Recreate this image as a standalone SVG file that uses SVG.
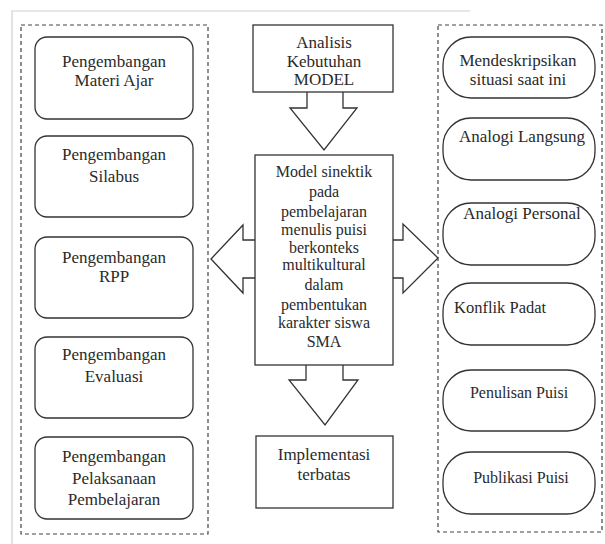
<svg xmlns="http://www.w3.org/2000/svg" width="605" height="544" viewBox="0 0 605 544">
<style>
text{font-family:"Liberation Serif","Times New Roman",serif;font-size:17px;fill:#2a2a2a;text-anchor:middle}
.box{fill:#fff;stroke:#333;stroke-width:1.3}
.dash{fill:none;stroke:#444;stroke-width:1.2;stroke-dasharray:4 3}
.arr{fill:#fff;stroke:#333;stroke-width:1.3;stroke-linejoin:miter}
.m text{font-size:16px}
</style>
<rect width="605" height="544" fill="#fff"/>
<g id="scan-border" stroke="#cfcfcf" stroke-width="1.2" fill="none">
<path d="M12,544 V11 H470"/>
</g>
<g id="group-left"><rect class="dash" x="21" y="25" width="187" height="509"/></g>
<g id="group-right"><rect class="dash" x="438" y="25" width="164" height="507"/></g>

<g id="connectors">
<path class="arr" d="M307,91 V108 H290 L324,150 L357,108 H343 V91"/>
<path class="arr" d="M306,364 V380 H289 L325,425 L358,380 H343 V364"/>
<path class="arr" d="M256,240 H243 V225 L211,259 L243,293 V278 H256"/>
<path class="arr" d="M392,240 H403 V224 L438,258 L403,293 V278 H392"/>
</g>

<g id="n-materi"><rect class="box" x="35" y="37" width="158" height="82" rx="12"/><text x="114" y="67">Pengembangan</text><text x="114" y="86">Materi Ajar</text></g>
<g id="n-silabus"><rect class="box" x="35" y="136" width="158" height="81" rx="12"/><text x="114" y="160">Pengembangan</text><text x="114" y="182">Silabus</text></g>
<g id="n-rpp"><rect class="box" x="35" y="237" width="158" height="81" rx="12"/><text x="114" y="263">Pengembangan</text><text x="114" y="282">RPP</text></g>
<g id="n-evaluasi"><rect class="box" x="35" y="337" width="158" height="81" rx="12"/><text x="114" y="360">Pengembangan</text><text x="114" y="382">Evaluasi</text></g>
<g id="n-pelaksanaan"><rect class="box" x="35" y="437" width="158" height="82" rx="12"/><text x="114" y="462">Pengembangan</text><text x="114" y="484">Pelaksanaan</text><text x="114" y="505">Pembelajaran</text></g>

<g id="n-analisis"><rect class="box" x="253" y="25" width="140" height="67"/><text x="324" y="48">Analisis</text><text x="324" y="67">Kebutuhan</text><text x="324" y="85">MODEL</text></g>
<g id="n-model" class="m"><rect class="box" x="255" y="155" width="138" height="210"/>
<text x="324" y="177">Model sinektik</text><text x="324" y="197">pada</text><text x="324" y="217">pembelajaran</text><text x="324" y="235">menulis puisi</text><text x="324" y="253">berkonteks</text><text x="324" y="270">multikultural</text><text x="324" y="290">dalam</text><text x="324" y="310">pembentukan</text><text x="324" y="328">karakter siswa</text><text x="324" y="347">SMA</text></g>
<g id="n-implementasi"><rect class="box" x="256" y="436" width="137" height="72"/><text x="324" y="460">Implementasi</text><text x="324" y="480">terbatas</text></g>

<g id="p-deskripsi"><rect class="box" x="443" y="37" width="152" height="61" rx="28"/><text x="518" y="66">Mendeskripsikan</text><text x="518" y="85">situasi saat ini</text></g>
<g id="p-langsung"><rect class="box" x="443" y="118" width="152" height="62" rx="28"/><text x="522" y="142">Analogi Langsung</text></g>
<g id="p-personal"><rect class="box" x="443" y="203" width="152" height="62" rx="28"/><text x="522" y="219">Analogi Personal</text></g>
<g id="p-konflik"><rect class="box" x="443" y="283" width="152" height="62" rx="28"/><text x="454" y="313" style="text-anchor:start;font-size:16.5px">Konflik Padat</text></g>
<g id="p-penulisan"><rect class="box" x="443" y="370" width="152" height="61" rx="28"/><text x="519" y="398" style="font-size:16px">Penulisan Puisi</text></g>
<g id="p-publikasi"><rect class="box" x="443" y="452" width="152" height="62" rx="28"/><text x="521" y="483" style="font-size:16px">Publikasi Puisi</text></g>
</svg>
